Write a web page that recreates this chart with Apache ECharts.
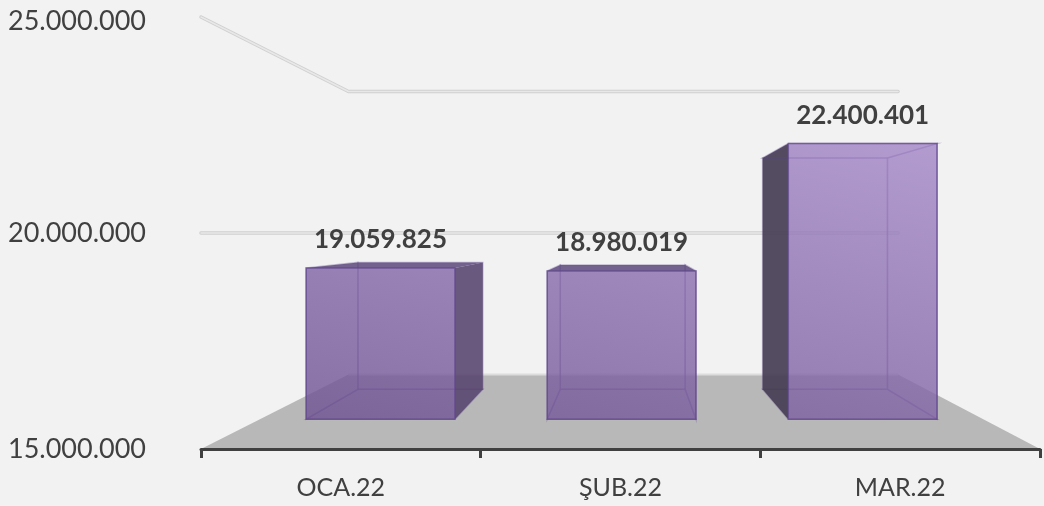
<!DOCTYPE html>
<html>
<head>
<meta charset="utf-8">
<style>
html, body { margin: 0; background: #f2f2f2; }
#chart { width: 1044px; height: 506px; }
</style>
<script src="https://cdn.jsdelivr.net/npm/echarts@6/dist/echarts.min.js"></script>
</head>
<body>
<div id="chart"></div>
<script>
var categories = ['OCA.22', 'ŞUB.22', 'MAR.22'];
var values = [19059825, 18980019, 22400401];
var ticks = [15000000, 20000000, 25000000];

// depth of the planes, 1 = front of the box, toward the vanishing point
var wallDepth = 0.655, barFront = 0.862, barBack = 0.7235;
var barWidth = 0.617;
var font = 'Lato, "Noto Sans", sans-serif';

function fmt(v) {
	return String(v).replace(/\B(?=(\d{3})+$)/g, '.');
}

// vanishing point: a little right of the middle of the plot, at the middle tick
function projector(api) {
	var vp = api.coord([1, ticks[1]]);
	var vx = vp[0] + 8;
	return function(x, v, s) {
		var p = api.coord([0, v]);
		var band = api.size([1, 0])[0];
		var px = p[0] + x * band;
		return [vx + (px - vx) * s, vp[1] + (p[1] - vp[1]) * s];
	};
}

function poly(points, fill, stroke, w) {
	return {
		type : 'polygon',
		shape : { points : points },
		style : { fill : fill, stroke : stroke || null, lineWidth : w || 0 }
	};
}

function renderFloor(params, api) {
	var p = projector(api), v = api.value(1);
	return {
		type : 'group',
		children : [ poly([ p(-0.5, v, 1), p(-0.5, v, wallDepth), p(2.5, v, wallDepth), p(2.5, v, 1) ], '#b8b8b8'), {
			type : 'polyline',
			shape : { points : [ p(-0.5, v, wallDepth), p(2.5, v, wallDepth) ] },
			style : { stroke : '#dcdcdc', lineWidth : 2, fill : null }
		} ]
	};
}

function renderGrid(params, api) {
	var p = projector(api), v = api.value(1);
	var pts = [ p(-0.5, v, 1), p(-0.5, v, wallDepth), p(2.5, v, wallDepth) ];
	return {
		type : 'group',
		children : [ {
			type : 'polyline',
			shape : { points : pts },
			style : { stroke : '#d0d0d0', lineWidth : 3.5, fill : null, lineCap : 'round', lineJoin : 'round' }
		}, {
			type : 'polyline',
			shape : { points : pts },
			style : { stroke : '#e8e8e8', lineWidth : 1.5, fill : null, lineCap : 'round', lineJoin : 'round' }
		} ]
	};
}

function renderBar(params, api) {
	var p = projector(api);
	var i = api.value(0), v = api.value(1), base = ticks[0];
	var l = i - barWidth / 2, r = i + barWidth / 2;
	var fbl = p(l, base, barFront), fbr = p(r, base, barFront), ftl = p(l, v, barFront), ftr = p(r, v, barFront);
	var bbl = p(l, base, barBack), bbr = p(r, base, barBack), btl = p(l, v, barBack), btr = p(r, v, barBack);
	var edge = 'rgba(96,70,140,0.75)';
	var innerEdge = 'rgba(100,76,145,0.35)';
	var kids = [];

	// inner faces first, they show through the front
	kids.push(poly([ btl, btr, bbr, bbl ], 'rgba(90,60,130,0.03)', innerEdge, 1.5));
	kids.push(poly([ bbl, bbr, fbr, fbl ], 'rgba(80,50,120,0.05)', innerEdge, 1.5));

	// side faces turned to the viewer are dark, see-through ones stay light
	var leftOut = bbl[0] < fbl[0], rightOut = bbr[0] > fbr[0], topOut = btl[1] < ftl[1];
	kids.push(poly([ ftl, btl, bbl, fbl ], leftOut ? 'rgba(70,62,84,0.92)' : 'rgba(120,90,170,0.04)', leftOut ? null : innerEdge, leftOut ? 0 : 1.5));
	kids.push(poly([ ftr, btr, bbr, fbr ], rightOut ? 'rgba(88,68,112,0.88)' : 'rgba(120,90,170,0.04)', rightOut ? null : innerEdge, rightOut ? 0 : 1.5));
	kids.push(poly([ ftl, ftr, btr, btl ], topOut ? 'rgba(98,78,128,0.88)' : 'rgba(90,60,130,0.03)', topOut ? null : innerEdge, topOut ? 0 : 1.5));

	kids.push(poly([ ftl, ftr, fbr, fbl ], new echarts.graphic.LinearGradient(300, 420, 405, 6, [ {
		offset : 0,
		color : 'rgba(110,82,145,0.8)'
	}, {
		offset : 1,
		color : 'rgba(164,135,199,0.8)'
	} ], true), edge, 1.5));

	kids.push({
		type : 'text',
		style : {
			text : fmt(v),
			x : (ftl[0] + ftr[0]) / 2,
			y : ftl[1] - 28,
			fill : '#404040',
			font : 'bold 26px ' + font,
			align : 'center',
			verticalAlign : 'middle'
		}
	});
	return { type : 'group', children : kids };
}

var option = {
	animation : false,
	backgroundColor : '#f2f2f2',
	grid : { left : 201, right : 4, top : 17, bottom : 57 },
	xAxis : {
		type : 'category',
		data : categories,
		z : 5,
		axisLine : { show : true, lineStyle : { color : '#404040', width : 3 } },
		axisTick : { show : true, alignWithLabel : false, length : 9, lineStyle : { color : '#404040', width : 3 } },
		axisLabel : { color : '#404040', fontSize : 25, fontFamily : font, margin : 26 }
	},
	yAxis : {
		type : 'value',
		min : ticks[0],
		max : ticks[2],
		interval : ticks[1] - ticks[0],
		splitLine : { show : false },
		axisLine : { show : false },
		axisTick : { show : false },
		axisLabel : {
			color : '#404040',
			fontSize : 27,
			fontFamily : font,
			margin : 55,
			formatter : function(v) {
				return v === ticks[2] ? '{top|' + fmt(v) + '}' : fmt(v);
			},
			rich : {
				top : { color : '#404040', fontSize : 27, fontFamily : font, padding : [ 8, 0, 0, 0 ] }
			}
		}
	},
	series : [ {
		type : 'custom',
		renderItem : renderFloor,
		data : [ [ 0, ticks[0] ] ],
		z : 1,
		silent : true
	}, {
		type : 'custom',
		renderItem : renderGrid,
		data : ticks.slice(1).map(function(t) { return [ 0, t ]; }),
		z : 1,
		silent : true
	}, {
		type : 'custom',
		renderItem : renderBar,
		data : values.map(function(v, i) { return [ i, v ]; }),
		z : 2,
		silent : true
	} ]
};
echarts.init(document.getElementById('chart')).setOption(option);
</script>
</body>
</html>
